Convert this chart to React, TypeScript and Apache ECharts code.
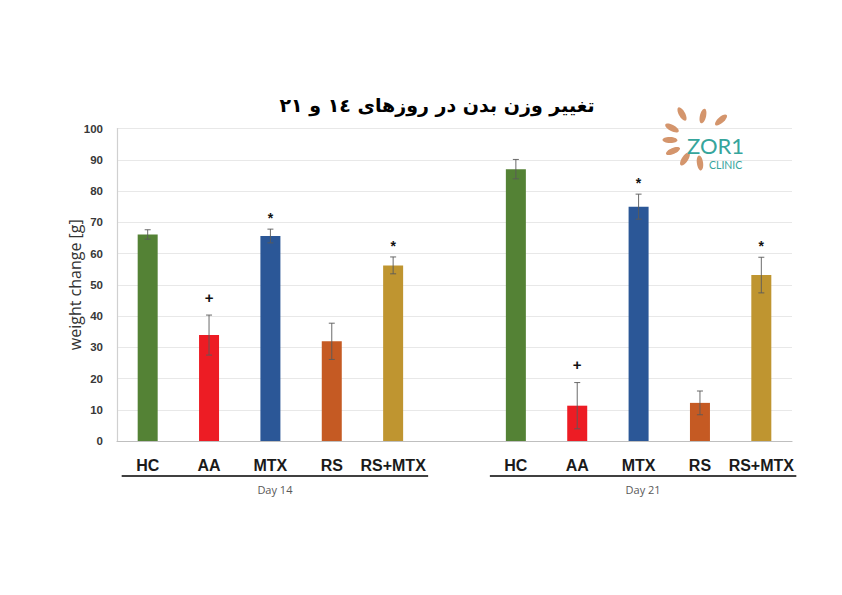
import React, { useEffect, useRef } from 'react';
import * as echarts from 'echarts';

// ---------- data ----------
const groupNames = ['Day 14', 'Day 21'];
const treatments = ['HC', 'AA', 'MTX', 'RS', 'RS+MTX'];
const day14Means = [66.1, 33.9, 65.6, 31.9, 56.2];
const day14Errors = [1.5, 6.4, 2.2, 5.8, 2.7];
const day21Means = [87.0, 11.3, 75.0, 12.2, 53.1];
const day21Errors = [3.1, 7.4, 4.0, 3.8, 5.7];
const day14Marks = ['', '+', '*', '', '*'];
const day21Marks = ['', '+', '*', '', '*'];
const yMin = 0;
const yMax = 100;
const yInterval = 10;
const titleText = 'تغییر وزن بدن در روزهای ١٤ و ٢١';
const yAxisName = 'weight change [g]';
const barColors = ['#548235', '#ed1c24', '#2b5797', '#c55a23', '#bf9530'];

// ---------- build series ----------
const allMeans = [day14Means, day21Means];
const allErrors = [day14Errors, day21Errors];
const allMarks = [day14Marks, day21Marks];

const categories: string[] = [];
const barData: any[] = [];
const errData: any[] = [];
const errMarks: string[] = [];
const groupKeys: string[][] = [];

groupNames.forEach((g, gi) => {
  if (gi > 0) {
    categories.push('gap' + gi);
    barData.push('-');
  }
  const keys: string[] = [];
  treatments.forEach((t, ti) => {
    const key = t + '|' + g;
    keys.push(key);
    categories.push(key);
    barData.push({ value: allMeans[gi][ti], itemStyle: { color: barColors[ti] } });
    errData.push([key, allMeans[gi][ti], allErrors[gi][ti]]);
    errMarks.push(allMarks[gi][ti]);
  });
  groupKeys.push(keys);
});

// logo rays (decoration)
const logoCenter = [697, 141];
const rayPoints = [
  [682, 114], [703, 116], [721, 120], [672, 128],
  [670, 140], [673, 151], [685, 159], [700, 163],
];

export default function App() {
  const ref = useRef<HTMLDivElement>(null);

  useEffect(() => {
    if (!ref.current) return;
    const chart = echarts.init(ref.current, undefined, { renderer: 'svg' });

    const option: any = {
      animation: false,
      backgroundColor: '#ffffff',
      grid: { left: 117, right: 50, top: 128.5, bottom: 154, containLabel: false },
      xAxis: {
        type: 'category',
        data: categories,
        axisLine: { show: true, lineStyle: { color: '#bfbfbf', width: 1.2 } },
        axisTick: { show: false },
        splitLine: { show: false },
        axisLabel: {
          interval: 0,
          margin: 16,
          fontFamily: 'Liberation Sans',
          fontWeight: 'bold',
          fontSize: 16,
          color: '#1a1a1a',
          formatter: (v: string) => (v.startsWith('gap') ? '' : v.split('|')[0]),
        },
      },
      yAxis: {
        type: 'value',
        min: yMin,
        max: yMax,
        interval: yInterval,
        name: yAxisName,
        nameLocation: 'middle',
        nameGap: 34,
        nameMoveOverlap: false,
        nameRotate: 90,
        nameTextStyle: { fontFamily: 'Open Sans', fontSize: 16, color: '#333333' },
        axisLine: { show: true, lineStyle: { color: '#d0d0d0', width: 1.2 } },
        axisTick: { show: false },
        splitLine: { show: true, lineStyle: { color: '#e8e8e8', width: 1 } },
        axisLabel: {
          margin: 14,
          fontFamily: 'Liberation Sans',
          fontWeight: 'bold',
          fontSize: 11.5,
          color: '#383838',
        },
      },
      series: [
        {
          type: 'bar',
          data: barData,
          barWidth: 20,
          itemStyle: { borderWidth: 0 },
        },
        {
          type: 'custom',
          data: errData,
          encode: { x: 0, y: 1 },
          z: 5,
          renderItem: (params: any, api: any) => {
            const idx = api.value(0);
            const mean = api.value(1);
            const err = api.value(2);
            const top = api.coord([idx, mean + err]);
            const bot = api.coord([idx, mean - err]);
            const x = top[0];
            const cap = 3;
            const lineStyle = { stroke: '#5a5a5a', lineWidth: 0.9 };
            const children: any[] = [
              { type: 'line', shape: { x1: x, y1: top[1], x2: x, y2: bot[1] }, style: lineStyle },
              { type: 'line', shape: { x1: x - cap, y1: top[1], x2: x + cap, y2: top[1] }, style: lineStyle },
              { type: 'line', shape: { x1: x - cap, y1: bot[1], x2: x + cap, y2: bot[1] }, style: lineStyle },
            ];
            const mark = errMarks[params.dataIndex];
            if (mark) {
              const off = mark === '+' ? 18 : 11;
              children.push({
                type: 'text',
                x: x,
                y: top[1] - off,
                style: {
                  text: mark,
                  fontFamily: 'Liberation Sans',
                  fontWeight: 'bold',
                  fontSize: mark === '+' ? 15 : 14,
                  fill: '#111111',
                  align: 'center',
                  verticalAlign: 'middle',
                },
              });
            }
            return { type: 'group', children };
          },
        },
      ],
    };
    chart.setOption(option);

    // group brackets and decoration
    const graphics: any[] = [];
    groupKeys.forEach((keys, gi) => {
      const x0 = chart.convertToPixel({ xAxisIndex: 0 }, keys[0]) as number;
      const x1 = chart.convertToPixel({ xAxisIndex: 0 }, keys[keys.length - 1]) as number;
      const left = x0 - 26;
      const right = x1 + 35;
      graphics.push({
        type: 'line',
        shape: { x1: left, y1: 476, x2: right, y2: 476 },
        style: { stroke: '#404040', lineWidth: 2.2 },
        silent: true,
      });
      graphics.push({
        type: 'text',
        x: (left + right) / 2,
        y: 489,
        style: {
          text: groupNames[gi],
          fontFamily: 'Open Sans',
          fontSize: 11,
          fill: '#595959',
          align: 'center',
          verticalAlign: 'middle',
        },
      });
    });

    // title
    graphics.push({
      type: 'text',
      x: 437,
      y: 105,
      style: {
        text: titleText,
        fontFamily: 'DejaVu Sans',
        fontWeight: 'bold',
        fontSize: 19,
        fill: '#000000',
        align: 'center',
        verticalAlign: 'middle',
      },
    });

    // logo
    rayPoints.forEach((p) => {
      const ang = Math.atan2(p[1] - logoCenter[1], p[0] - logoCenter[0]);
      graphics.push({
        type: 'ellipse',
        x: p[0],
        y: p[1],
        rotation: -ang,
        shape: { cx: 0, cy: 0, rx: 7.5, ry: 3.1 },
        style: { fill: '#d4956c' },
        silent: true,
      });
    });
    graphics.push({
      type: 'text',
      x: 687,
      y: 145,
      style: {
        text: 'ZOR1',
        fontFamily: 'Lato',
        fontSize: 22,
        fill: '#36a59c',
        align: 'left',
        verticalAlign: 'middle',
      },
    });
    graphics.push({
      type: 'text',
      x: 709,
      y: 165,
      style: {
        text: 'CLINIC',
        fontFamily: 'Lato',
        fontSize: 10.5,
        fill: '#36a59c',
        align: 'left',
        verticalAlign: 'middle',
      },
    });

    chart.setOption({ graphic: graphics });

    return () => {
      chart.dispose();
    };
  }, []);

  return (
    <div
      ref={ref}
      style={{ position: 'absolute', left: 0, top: 0, width: 842, height: 595 }}
    />
  );
}
